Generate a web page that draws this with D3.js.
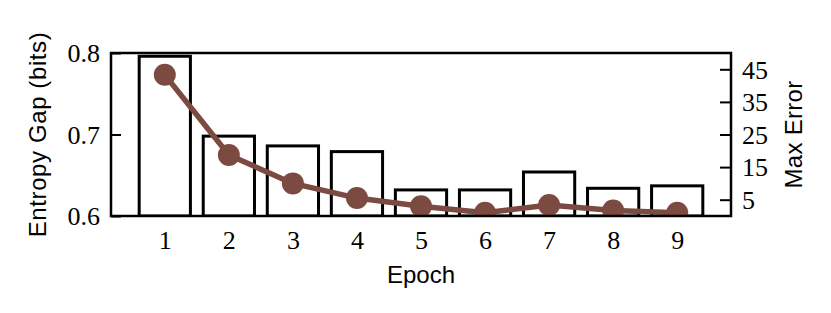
<!DOCTYPE html>
<html>
<head>
<meta charset="utf-8">
<script src="https://cdn.jsdelivr.net/npm/d3@7"></script>
<style>
  html, body { margin: 0; padding: 0; background: #fff; }
  svg { display: block; }
</style>
</head>
<body>
<svg id="chart" width="831" height="313"></svg>
<script>
const epochs = [1, 2, 3, 4, 5, 6, 7, 8, 9];
const entropyGap = [0.796, 0.698, 0.686, 0.679, 0.632, 0.632, 0.654, 0.634, 0.637];
const maxError = [43.3, 18.7, 10.0, 5.5, 3.0, 1.0, 3.4, 1.7, 1.0];
const leftTicks = [0.6, 0.7, 0.8];
const rightTicks = [5, 15, 25, 35, 45];
const xLabel = "Epoch";
const leftLabel = "Entropy Gap (bits)";
const rightLabel = "Max Error";

const W = 831, H = 313;
const m = {left: 111, right: 100, top: 53, bottom: 97};
const pw = W - m.left - m.right, ph = H - m.top - m.bottom;
const lineColor = "#7b4a40";
const serif = "'Liberation Serif', 'Times New Roman', serif";
const sans = "'Liberation Sans', Arial, sans-serif";

const svg = d3.select("#chart");
const g = svg.append("g").attr("transform", `translate(${m.left},${m.top})`);

const x = d3.scaleLinear().domain([0.16, 9.84]).range([0, pw]);
const yL = d3.scaleLinear().domain([0.6, 0.8]).range([ph, 0]);
const yR = d3.scaleLinear().domain([0, 50]).range([ph, 0]);

svg.append("defs").append("clipPath").attr("id", "clip")
  .append("rect").attr("x", 0).attr("y", 0).attr("width", pw).attr("height", ph);

const plot = g.append("g").attr("clip-path", "url(#clip)");
const barW = 0.8;
plot.selectAll("rect.bar").data(epochs).enter().append("rect")
  .attr("class", "bar")
  .attr("x", (d) => x(d - barW / 2))
  .attr("width", (d) => x(d + barW / 2) - x(d - barW / 2))
  .attr("y", (d, i) => yL(entropyGap[i]))
  .attr("height", (d, i) => yL(0.6) - yL(entropyGap[i]))
  .attr("fill", "none").attr("stroke", "#000").attr("stroke-width", 3);

const line = d3.line().x((d) => x(d)).y((d, i) => yR(maxError[i]));
plot.append("path").datum(epochs).attr("d", line)
  .attr("fill", "none").attr("stroke", lineColor).attr("stroke-width", 5.5)
  .attr("stroke-linejoin", "round");
plot.selectAll("circle").data(epochs).enter().append("circle")
  .attr("cx", (d) => x(d)).attr("cy", (d, i) => yR(maxError[i]))
  .attr("r", 11).attr("fill", lineColor);

// Axes
const fmtL = d3.format(".1f");
const axL = g.append("g").call(d3.axisLeft(yL).tickValues(leftTicks).tickFormat(fmtL).tickSizeInner(-10).tickSizeOuter(0).tickPadding(11));
const axR = g.append("g").attr("transform", `translate(${pw},0)`)
  .call(d3.axisRight(yR).tickValues(rightTicks).tickSizeInner(-11).tickSizeOuter(0).tickPadding(11));
const axB = g.append("g").attr("transform", `translate(0,${ph})`)
  .call(d3.axisBottom(x).tickValues(epochs).tickFormat(d3.format("d")).tickSizeInner(0).tickSizeOuter(0).tickPadding(14));

[axL, axR, axB].forEach((a) => {
  a.select(".domain").remove();
  a.selectAll(".tick line").attr("stroke", "#000").attr("stroke-width", 2);
  a.selectAll(".tick text").attr("font-family", serif).attr("font-size", 26).attr("fill", "#000");
});
axL.selectAll(".tick text").attr("dy", "0.34em");
axR.selectAll(".tick text").attr("dy", "0.34em");
axB.selectAll(".tick text").attr("dy", "0.72em");

// Frame
g.append("rect").attr("x", 0).attr("y", 0).attr("width", pw).attr("height", ph)
  .attr("fill", "none").attr("stroke", "#000").attr("stroke-width", 2.5);

// Labels
g.append("text").attr("x", pw / 2).attr("y", ph + 67).attr("text-anchor", "middle")
  .attr("font-family", sans).attr("font-size", 24).text(xLabel);
g.append("text").attr("transform", `translate(${-65},${ph / 2}) rotate(-90)`)
  .attr("text-anchor", "middle").attr("font-family", sans).attr("font-size", 24)
  .attr("letter-spacing", 0.6).text(leftLabel);
g.append("text").attr("transform", `translate(${pw + 71},${ph / 2}) rotate(-90)`)
  .attr("text-anchor", "middle").attr("font-family", sans).attr("font-size", 24)
  .attr("letter-spacing", 0.3).text(rightLabel);
</script>
</body>
</html>
